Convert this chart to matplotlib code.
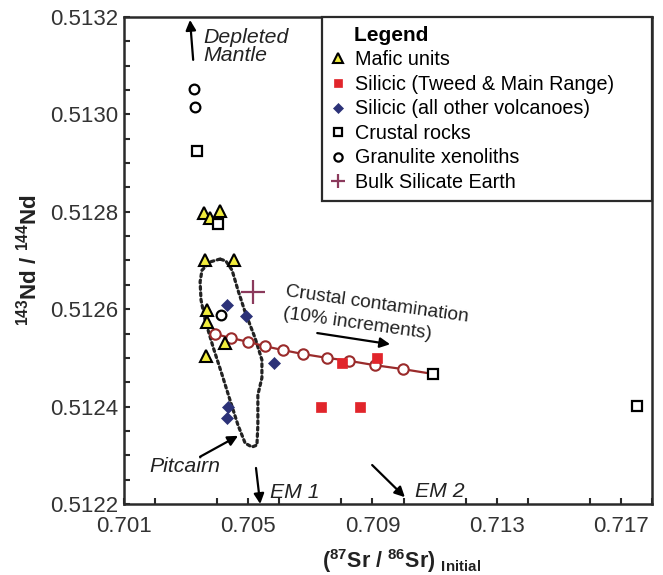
import matplotlib
matplotlib.use("Agg")
import matplotlib.pyplot as plt
from matplotlib.ticker import MultipleLocator, FixedLocator, FuncFormatter

plt.rcParams['font.family'] = ['Liberation Sans', 'DejaVu Sans']
plt.rcParams['mathtext.fontset'] = 'custom'
plt.rcParams['mathtext.rm'] = 'Liberation Sans'
plt.rcParams['mathtext.bf'] = 'Liberation Sans:bold'
plt.rcParams['mathtext.it'] = 'Liberation Sans:italic'

# --- Sr-Nd isotope data -------------------------------------------------
mafic_sr = [0.70358, 0.70377, 0.70409, 0.70361, 0.70454, 0.70367, 0.70367, 0.70425, 0.70364]
mafic_nd = [0.512798, 0.512787, 0.512802, 0.512701, 0.512701, 0.512598, 0.512574, 0.512531, 0.512504]

tweed_sr = [0.70802, 0.70915, 0.70734, 0.70860]
tweed_nd = [0.512490, 0.512500, 0.512400, 0.512400]

other_sr = [0.70432, 0.70493, 0.70583, 0.70435, 0.70432]
other_nd = [0.512609, 0.512586, 0.512490, 0.512399, 0.512377]

crust_sr = [0.70335, 0.70403, 0.71095, 0.71752]
crust_nd = [0.512925, 0.512775, 0.512467, 0.512401]

granulite_sr = [0.70325, 0.70328, 0.70412]
granulite_nd = [0.513052, 0.513015, 0.512588]

bse_sr = [0.70515]
bse_nd = [0.512635]

# mixing curve, 10% increments toward the crustal end-member
mix_sr = [0.70393, 0.70444, 0.70499, 0.70554, 0.70612, 0.70676, 0.70754, 0.70824, 0.70908, 0.70998]
mix_nd = [0.512549, 0.512541, 0.512533, 0.512524, 0.512516, 0.512508, 0.512500, 0.512494, 0.512485, 0.512477]
mix_end_sr = 0.71095
mix_end_nd = 0.512467

# Pitcairn field outline
pitcairn_sr = [0.70409, 0.70377, 0.70351, 0.70345, 0.70348, 0.70361, 0.70387, 0.70416, 0.70441,
               0.70467, 0.70490, 0.70512, 0.70528, 0.70531, 0.70531, 0.70544, 0.70544, 0.70522,
               0.70490, 0.70467, 0.70448, 0.70428, 0.70409]
pitcairn_nd = [0.512703, 0.512697, 0.512680, 0.512656, 0.512619, 0.512578, 0.512522, 0.512465, 0.512414,
               0.512362, 0.512325, 0.512317, 0.512321, 0.512362, 0.512424, 0.512459, 0.512496, 0.512541,
               0.512594, 0.512639, 0.512680, 0.512699, 0.512703]

x_major = [0.701, 0.705, 0.709, 0.713, 0.717]
y_major = [0.5122, 0.5124, 0.5126, 0.5128, 0.5130, 0.5132]

# --- figure -------------------------------------------------------------
fig = plt.figure(figsize=(6.63, 5.75), dpi=100)
ax = fig.add_axes([124 / 663, 71 / 575, 528 / 663, 487 / 575])
ax.set_xlim(0.701, 0.718)
ax.set_ylim(0.5122, 0.5132)

ink = '#2a2a2a'
for s in ax.spines.values():
    s.set_linewidth(1.8)
    s.set_color(ink)

ax.xaxis.set_major_locator(FixedLocator(x_major))
ax.xaxis.set_minor_locator(MultipleLocator(0.002))
ax.yaxis.set_major_locator(FixedLocator(y_major))
ax.yaxis.set_minor_locator(MultipleLocator(0.00005))
ax.xaxis.set_major_formatter(FuncFormatter(lambda v, p: f"{v:.3f}"))
ax.yaxis.set_major_formatter(FuncFormatter(lambda v, p: f"{v:.4f}"))
ax.tick_params(which='both', direction='in', length=4, width=1.5, color=ink,
               top=False, right=False)
ax.tick_params(which='major', labelsize=16, labelcolor='#333333')
ax.tick_params(axis='y', which='major', pad=4)
ax.tick_params(axis='x', which='major', pad=9)

# Pitcairn field
ax.plot(pitcairn_sr, pitcairn_nd, color='#222222', lw=2.3, ls=(0, (0.9, 1.1)),
        dash_capstyle='round', zorder=2)

# mixing line
ax.plot(mix_sr + [mix_end_sr], mix_nd + [mix_end_nd], color='#9a2b2b', lw=1.6, zorder=3)
ax.plot(mix_sr, mix_nd, ls='none', marker='o', ms=7.5, mfc='white', mec='#9a2b2b',
        mew=1.5, zorder=4)

ax.plot(mafic_sr, mafic_nd, ls='none', marker='^', ms=8, mfc='#f1ec3c', mec='black',
        mew=1.5, zorder=5, label='Mafic units')
ax.plot(tweed_sr, tweed_nd, ls='none', marker='s', ms=7, mfc='#e1252b', mec='#e1252b',
        mew=0.5, zorder=5, label='Silicic (Tweed & Main Range)')
ax.plot(other_sr, other_nd, ls='none', marker='D', ms=6.5, mfc='#2c3278', mec='#2c3278',
        mew=0.5, zorder=5, label='Silicic (all other volcanoes)')
ax.plot(crust_sr, crust_nd, ls='none', marker='s', ms=7, mfc='white', mec='black',
        mew=1.6, zorder=6, label='Crustal rocks')
ax.plot(granulite_sr, granulite_nd, ls='none', marker='o', ms=7, mfc='white', mec='black',
        mew=1.6, zorder=5, label='Granulite xenoliths')
ax.plot(bse_sr, bse_nd, ls='none', marker='+', ms=17, mec='#8b3a5c', mew=1.6,
        zorder=5, label='Bulk Silicate Earth')

# axis labels
ax.set_ylabel(r'$\mathbf{{}^{143}Nd\ /\ {}^{144}Nd}$', fontsize=16, color='#222222')
ax.yaxis.set_label_coords(-0.157, 0.5)
ax.set_xlabel(r'$\mathbf{({}^{87}Sr\ /\ {}^{86}Sr)}\ {}_{\mathbf{Initial}}$', fontsize=15.5,
              color='#222222')
ax.xaxis.set_label_coords(0.525, -0.088)

# legend
leg = ax.legend(loc='upper left', bbox_to_anchor=(0.375, 0.0, 0.625, 1.0), mode='expand',
                borderaxespad=0.0, fontsize=14.2, title='    Legend',
                title_fontproperties={'weight': 'bold', 'size': 15},
                alignment='left', handlelength=0.7, handletextpad=0.5,
                labelspacing=0.28, borderpad=0.45, frameon=True, fancybox=False,
                edgecolor=ink, framealpha=1.0)
leg.get_frame().set_linewidth(1.6)
for h in leg.legend_handles:
    scale = 0.6 if h.get_marker() == '+' else 0.85
    h.set_markersize(h.get_markersize() * scale)

# annotations (axes fraction coordinates)
it = dict(style='italic', fontsize=15.3, color='#222222')
arrow = dict(arrowstyle='-|>,head_length=0.6,head_width=0.3', color='black', lw=1.6,
             shrinkA=0, shrinkB=0)

ax.text(0.150, 0.940, 'Depleted\nMantle', transform=ax.transAxes, ha='left', va='center',
        linespacing=0.95, **it)
ax.annotate('', xy=(0.125, 0.994), xytext=(0.131, 0.912), xycoords='axes fraction',
            textcoords='axes fraction', arrowprops=arrow)

ax.text(0.116, 0.077, 'Pitcairn', transform=ax.transAxes, ha='center', va='center', **it)
ax.annotate('', xy=(0.216, 0.140), xytext=(0.144, 0.097), xycoords='axes fraction',
            textcoords='axes fraction', arrowprops=arrow)

ax.text(0.277, 0.024, 'EM 1', transform=ax.transAxes, ha='left', va='center', **it)
ax.annotate('', xy=(0.258, 0.0), xytext=(0.250, 0.074), xycoords='axes fraction',
            textcoords='axes fraction', arrowprops=arrow)

ax.text(0.551, 0.026, 'EM 2', transform=ax.transAxes, ha='left', va='center', **it)
ax.annotate('', xy=(0.532, 0.014), xytext=(0.470, 0.080), xycoords='axes fraction',
            textcoords='axes fraction', arrowprops=arrow)

ct = dict(fontsize=13.8, color='#222222', rotation=-8, rotation_mode='anchor',
          ha='left', va='center', transform=ax.transAxes)
ax.text(0.307, 0.437, 'Crustal contamination', **ct)
ax.text(0.301, 0.390, '(10% increments)', **ct)
ax.annotate('', xy=(0.504, 0.328), xytext=(0.366, 0.351), xycoords='axes fraction',
            textcoords='axes fraction', arrowprops=arrow)

fig.savefig('out.png', dpi=100)
